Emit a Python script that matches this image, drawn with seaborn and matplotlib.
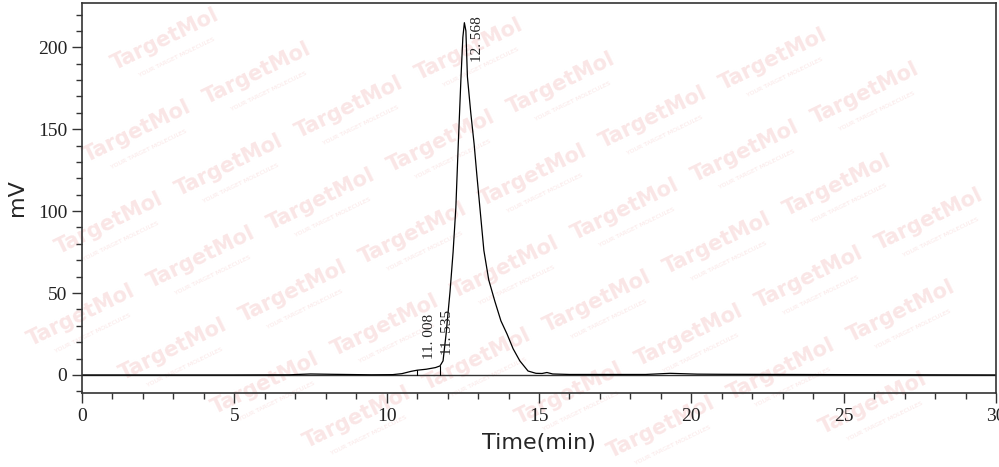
import matplotlib
matplotlib.use("Agg")
import matplotlib.pyplot as plt
import seaborn as sns
import numpy as np
import pandas as pd

# chromatogram trace (time in min, signal in mV)
time = [0.0, 5.0, 6.8, 7.5, 8.2, 9.5, 10.2, 10.5, 10.8, 11.0, 11.3, 11.6,
        11.75, 11.85, 11.95, 12.08, 12.18, 12.27, 12.35, 12.44, 12.50, 12.55,
        12.60, 12.65, 12.76, 12.87, 12.96, 13.04, 13.19, 13.35, 13.55, 13.75,
        13.95, 14.15, 14.37, 14.64, 14.9, 15.1, 15.26, 15.45, 16.0, 18.5,
        19.3, 20.2, 21.0, 25.0, 30.0]
signal = [0.0, 0.0, 0.1, 0.6, 0.4, 0.1, 0.2, 0.8, 2.2, 2.9, 3.5, 4.5,
          5.5, 8.6, 25.0, 51.0, 75.0, 102.0, 141.0, 182.0, 206.0, 215.0,
          210.0, 182.0, 160.0, 141.0, 122.0, 106.0, 76.0, 58.0, 45.0, 33.0,
          25.0, 16.0, 8.6, 2.4, 1.0, 0.9, 1.5, 0.6, 0.3, 0.3,
          1.0, 0.5, 0.4, 0.2, 0.0]

# peak labels
peak_names = ["11. 008", "11. 535", "12. 568"]
label_x = [11.41, 12.0, 12.99]
label_y = [10.0, 12.0, 191.0]

# integration drop lines
drop_t = [11.0, 11.75]
drop_h = [2.9, 5.5]

df = pd.DataFrame({"Time": time, "mV": signal})

sns.set_style("ticks")
fig = plt.figure(figsize=(9.99, 4.67), dpi=100)
ax = fig.add_axes([0.0821, 0.1585, 0.9149, 0.835])
ax.patch.set_alpha(0)

# faint watermark lattice
wm_col = "#fae6e6"
for i in range(-6, 16):
    for j in range(-4, 8):
        px = 653 + 92 * i - 28 * j
        py = 117 + 34 * i + 92 * j
        if 65 < px < 935 and 35 < py < 440:
            fig.text(px / 999, 1 - py / 467, "TargetMol", rotation=26,
                     ha="center", va="center", fontsize=15, fontweight="bold",
                     color=wm_col, zorder=-5, rotation_mode="anchor")
            fig.text((px + 12) / 999, 1 - (py + 18) / 467, "YOUR TARGET MOLECULES",
                     rotation=26, ha="center", va="center", fontsize=4.5,
                     color=wm_col, zorder=-5, rotation_mode="anchor")

ax.axhline(0, color="#333333", lw=1.0, zorder=1)
sns.lineplot(data=df, x="Time", y="mV", color="black", lw=0.9, ax=ax, zorder=2)
for t, h in zip(drop_t, drop_h):
    ax.plot([t, t], [0, h], color="black", lw=0.8)

for name, x, y in zip(peak_names, label_x, label_y):
    ax.text(x, y, name, rotation=90, ha="center", va="bottom",
            fontsize=11, family="Liberation Serif", color="#222222")

ax.set_xlim(0, 30)
ax.set_ylim(-11, 227)
ax.set_xticks(np.arange(0, 31, 5))
ax.set_xticks(np.arange(0, 31, 1), minor=True)
ax.set_yticks(np.arange(0, 201, 50))
ax.set_yticks(np.arange(-10, 221, 10), minor=True)
ax.tick_params(which="major", direction="out", length=7, width=1, color="#333333")
ax.tick_params(which="minor", direction="out", length=4, width=1, color="#333333")
for lab in ax.get_xticklabels() + ax.get_yticklabels():
    lab.set_family("Liberation Serif")
    lab.set_fontsize(14)
    lab.set_color("#222222")

for s in ax.spines.values():
    s.set_visible(True)
    s.set_color("#333333")
    s.set_linewidth(1.2)

ax.set_xlabel("Time(min)", fontsize=16, family="DejaVu Sans", labelpad=6)
ax.set_ylabel("mV", fontsize=16, family="DejaVu Sans", labelpad=8)

fig.savefig("out.png", dpi=100)
